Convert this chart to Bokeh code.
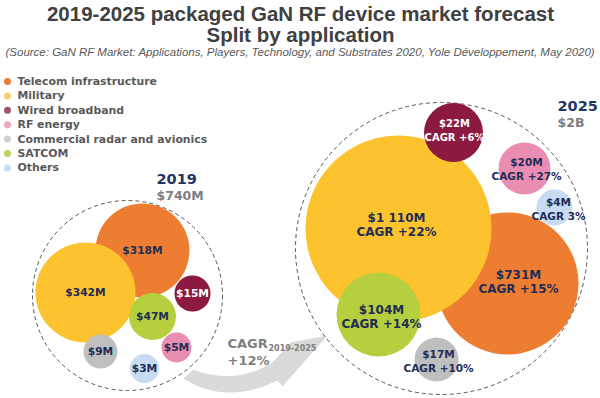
from bokeh.plotting import figure
from bokeh.models import Range1d
from bokeh.core.properties import value
from bokeh.embed import file_html
from bokeh.resources import INLINE

# ---------------- data ----------------
categories = ["Telecom infrastructure", "Military", "Wired broadband", "RF energy",
              "Commercial radar and avionics", "SATCOM", "Others"]
values_2019 = [318, 342, 15, 5, 9, 47, 3]          # $M
values_2025 = [731, 1110, 22, 20, 17, 104, 4]      # $M
cagr_labels = ["CAGR +15%", "CAGR +22%", "CAGR +6%", "CAGR +27%",
               "CAGR +10%", "CAGR +14%", "CAGR 3%"]
total_2019 = "$740M"
total_2025 = "$2B"
total_cagr = "+12%"

# ---------------- styles / layout ----------------
colors = ["#ED7D31", "#FCC32F", "#8C1A40", "#EA8DB2", "#BFBFBF", "#B5CF3E", "#C7DCF3"]
legend_colors = ["#EA7B3C", "#F8D072", "#A0506B", "#EFA6C1", "#D0D0D0", "#BAD45C", "#CADCF0"]
label_colors = ["#1F2D56", "#1F2D56", "#FFFFFF", "#1F2D56", "#1F2D56", "#1F2D56", "#1F2D56"]

x19 = [142, 85, 192, 176, 100, 152, 144]
y19 = [250, 292, 293, 347, 351, 316, 368]
r19 = [47, 50, 18, 15, 17, 23.5, 14.5]

x25 = [507, 398, 453, 524, 436, 378, 554]
y25 = [283, 228, 132, 168, 359, 314, 207]
r25 = [71, 93, 29.5, 26, 22, 42, 18]
lbl_dx25 = [11, -2, 1, 2, 2, 3, 4]
lbl_dy25 = [-2, -4, -2, 0, 1, 2, 1]
fs25 = [12, 12, 10, 10.5, 10.5, 12, 10.5]

NAVY = "#1F2D56"
GRAY = "#7F7F7F"
FONT = value("DejaVu Sans")

W, H = 600, 398
p = figure(width=W, height=H, output_backend="svg", toolbar_location=None,
           x_range=Range1d(0, W), y_range=Range1d(H, 0), min_border=0)
p.axis.visible = False
p.grid.visible = False
p.outline_line_color = None
p.background_fill_color = "white"


def quad(p0, c, p2, n=24):
    xs, ys = [], []
    for i in range(n + 1):
        t = i / n
        xs.append((1 - t) ** 2 * p0[0] + 2 * (1 - t) * t * c[0] + t ** 2 * p2[0])
        ys.append((1 - t) ** 2 * p0[1] + 2 * (1 - t) * t * c[1] + t ** 2 * p2[1])
    return xs, ys


# ---------------- growth arrow ----------------
ux, uy = quad((193, 369), (235, 385), (272, 362))
lx, ly = quad((277, 380), (225, 405), (183, 378))
ax = ux + [290, 327, 282] + lx
ay = uy + [342, 335, 386] + ly
p.patch(ax, ay, fill_color="#DADADA", line_color=None)

# ---------------- dashed group circles ----------------
p.circle([127, 441], [295, 248], radius=[95, 146], fill_color=None,
         line_color="#555555", line_dash="4 3", line_width=1)

# ---------------- bubbles ----------------
p.circle(x19, y19, radius=r19, fill_color=colors, line_color=None)
p.circle(x25, y25, radius=r25, fill_color=colors, line_color=None)

# labels 2019
lab19 = [f"${v}M" for v in values_2019]
p.text(x19, y19, text=lab19, text_color=label_colors, text_align="center",
       text_baseline="middle", text_font=FONT, text_font_style="bold",
       text_font_size="10.7px")

# labels 2025
lab25 = [f"${v:,}M".replace(",", " ") for v in values_2025]
lx1 = [x + dx for x, dx in zip(x25, lbl_dx25)]
ly1 = [y + dy - 7 for y, dy in zip(y25, lbl_dy25)]
ly2 = [y + dy + 7 for y, dy in zip(y25, lbl_dy25)]
fsz = [f"{f}px" for f in fs25]
p.text(lx1, ly1, text=lab25, text_color=label_colors, text_align="center",
       text_baseline="middle", text_font=FONT, text_font_style="bold",
       text_font_size=fsz)
p.text(lx1, ly2, text=cagr_labels, text_color=label_colors, text_align="center",
       text_baseline="middle", text_font=FONT, text_font_style="bold",
       text_font_size=fsz)

# year headers
p.text([156, 557], [178, 105], text=["2019", "2025"], text_color="#1F3566",
       text_baseline="middle", text_font=FONT, text_font_style="bold",
       text_font_size="14.5px")
p.text([156, 557], [195, 122], text=[total_2019, total_2025], text_color=GRAY,
       text_baseline="middle", text_font=FONT, text_font_style="bold",
       text_font_size="12.5px")

# CAGR on arrow
p.text([227], [343], text=["CAGR"], text_color=GRAY, text_baseline="middle",
       text_font=FONT, text_font_style="bold", text_font_size="13px")
p.text([268], [347], text=["2019-2025"], text_color=GRAY, text_baseline="middle",
       text_font=FONT, text_font_style="bold", text_font_size="8px")
p.text([227], [360], text=[total_cagr], text_color=GRAY, text_baseline="middle",
       text_font=FONT, text_font_style="bold", text_font_size="13px")

# legend
leg_y = [81 + 14.4 * i for i in range(len(categories))]
p.scatter([7] * len(categories), leg_y, size=7, fill_color=legend_colors, line_color=None)
p.text([17] * len(categories), leg_y, text=categories, text_color="#595959",
       text_baseline="middle", text_font=FONT, text_font_style="bold",
       text_font_size="10.9px")

# title
p.text([300], [13], text=["2019-2025 packaged GaN RF device market forecast"],
       text_color="#404040", text_align="center", text_baseline="middle",
       text_font=value("Liberation Sans"), text_font_style="bold", text_font_size="20.5px")
p.text([300], [34], text=["Split by application"],
       text_color="#404040", text_align="center", text_baseline="middle",
       text_font=value("Liberation Sans"), text_font_style="bold", text_font_size="20.5px")
p.text([300], [51], text=["(Source: GaN RF Market: Applications, Players, Technology, and Substrates 2020, Yole Développement, May 2020)"],
       text_color="#595959", text_align="center", text_baseline="middle",
       text_font=value("Liberation Sans"), text_font_style="italic", text_font_size="11.5px")

open("out.html", "w").write(file_html(p, INLINE))
